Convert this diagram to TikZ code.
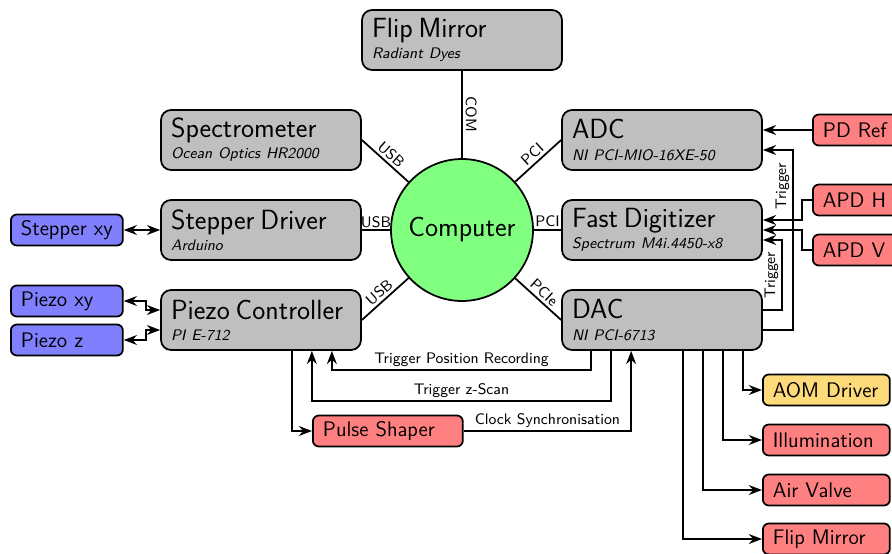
\documentclass[tikz,border=0pt]{standalone}
\usepackage{tikz}
\usepackage{xcolor}
\usetikzlibrary{arrows.meta}
\renewcommand{\familydefault}{\sfdefault}

\newcommand{\devtext}[2]{{\fontsize{15.8}{19}\selectfont #1}\\{\fontsize{8.7}{10}\selectfont\itshape #2}}

\tikzset{
  device/.style={draw, line width=1pt, rounded corners=0.2cm, fill=gray!50,
    minimum width=4cm, minimum height=1.2cm, text width=3.6cm,
    inner xsep=0.2cm, inner ysep=0pt, align=left},
  part/.style={draw, line width=1pt, rounded corners=0.12cm, minimum height=0.62cm,
    inner xsep=0.2cm, inner ysep=0pt, align=left, font=\large, anchor=west},
  motor/.style={part, fill=blue!50, text width=1.84cm},
  signal/.style={part, fill=red!50, text width=2.14cm},
  wire/.style={line width=1pt},
  conn/.style={line width=1pt, -{Stealth}},
  lbl/.style={font=\fontsize{8.7}{10}\selectfont, inner sep=1.5pt},
}

\begin{document}
\begin{tikzpicture}[x=0.02cm,y=-0.02cm]
\useasboundingbox (0,0) rectangle (892,554);

% central pc
\node[draw, line width=1pt, circle, fill=green!50, minimum size=2.84cm, font=\fontsize{15.8}{19}\selectfont] (comp) at (462,230) {Computer};

% devices round the pc
\node[device] (flip) at (462,40) {\devtext{Flip Mirror}{Radiant Dyes}};
\node[device] (spec) at (261,140) {\devtext{Spectrometer}{Ocean Optics HR2000}};
\node[device] (stepper) at (261,230) {\devtext{Stepper Driver}{Arduino}};
\node[device] (piezo) at (261,320) {\devtext{Piezo Controller}{PI E-712}};
\node[device] (adc) at (662,140) {\devtext{ADC}{NI PCI-MIO-16XE-50}};
\node[device] (fd) at (662,230) {\devtext{Fast Digitizer}{Spectrum M4i.4450-x8}};
\node[device] (dac) at (662,320) {\devtext{DAC}{NI PCI-6713}};

% stages
\node[motor] (stxy) at (10,230) {Stepper xy};
\node[motor] (pzxy) at (10,301) {Piezo xy};
\node[motor] (pzz) at (10,340) {Piezo z};

% detectors and outputs
\node[signal] (pdref) at (812,130) {PD Ref};
\node[signal] (apdh) at (812,200) {APD H};
\node[signal] (apdv) at (812,250) {APD V};
\node[signal, text width=2.6cm] (pulse) at (312,431) {Pulse Shaper};
\node[signal, fill=yellow!50!orange!50] (aom) at (762,390) {AOM Driver};
\node[signal] (illu) at (762,440) {Illumination};
\node[signal] (valve) at (762,490) {Air Valve};
\node[signal] (flipout) at (762,539) {Flip Mirror};

% bus connections
\draw[wire] (flip) -- node[lbl, above, sloped] {COM} (comp);
\draw[wire] (spec.east) -- node[lbl, above, sloped] {USB} (comp);
\draw[wire] (stepper.east) -- node[lbl, above, inner sep=1pt] {USB} (comp);
\draw[wire] (piezo.east) -- node[lbl, above, sloped] {USB} (comp);
\draw[wire] (comp) -- node[lbl, above, sloped] {PCI} (adc.west);
\draw[wire] (comp) -- node[lbl, above] {PCI} (fd.west);
\draw[wire] (comp) -- node[lbl, above, sloped] {PCIe} (dac.west);

% stages
\draw[conn, {Stealth}-{Stealth}] (stxy.east) -- (stepper.west);
\draw[conn, {Stealth}-{Stealth}] (pzxy.east) -- ++(22,0) |- ([yshift=2mm]piezo.west);
\draw[conn, {Stealth}-{Stealth}] (pzz.east) -- ++(22,0) |- ([yshift=-2mm]piezo.west);

% triggers below
\draw[conn] ([xshift=0.6cm]dac.south west) -- ++(0,19) -| node[lbl, pos=0.25, above] {Trigger Position Recording} ([xshift=-0.6cm]piezo.south east);
\draw[conn] ([xshift=1cm]dac.south west) -- ++(0,50) -| node[lbl, pos=0.25, above] {Trigger z-Scan} ([xshift=-1cm]piezo.south east);
\draw[conn] ([xshift=-1.4cm]piezo.south east) |- (pulse.west);
\draw[conn] (pulse.east) -| node[lbl, pos=0.25, above] {Clock Synchronisation} ([xshift=1.4cm]dac.south west);

% inputs on the right
\draw[conn] (pdref.west) -- (pdref.west -| adc.east);
\draw[conn] ([yshift=-2mm]dac.east) -- ++(30,0) |- node[lbl, pos=0.4, above, sloped] {Trigger} ([yshift=-2mm]adc.east);
\draw[conn] ([yshift=2mm]dac.east) -- ++(19,0) |- node[lbl, pos=0.25, above, sloped] {Trigger} ([yshift=-2mm]fd.east);
\draw[conn] (apdh.west) -- ++(-10,0) |- ([yshift=2mm]fd.east);
\draw[conn] (apdv.west) -- ++(-10,0) |- (fd.east);

% dac outputs
\draw[conn] ([xshift=-0.4cm]dac.south east) |- (aom.west);
\draw[conn] ([xshift=-0.8cm]dac.south east) |- (illu.west);
\draw[conn] ([xshift=-1.2cm]dac.south east) |- (valve.west);
\draw[conn] ([xshift=-1.6cm]dac.south east) |- (flipout.west);
\end{tikzpicture}
\end{document}
